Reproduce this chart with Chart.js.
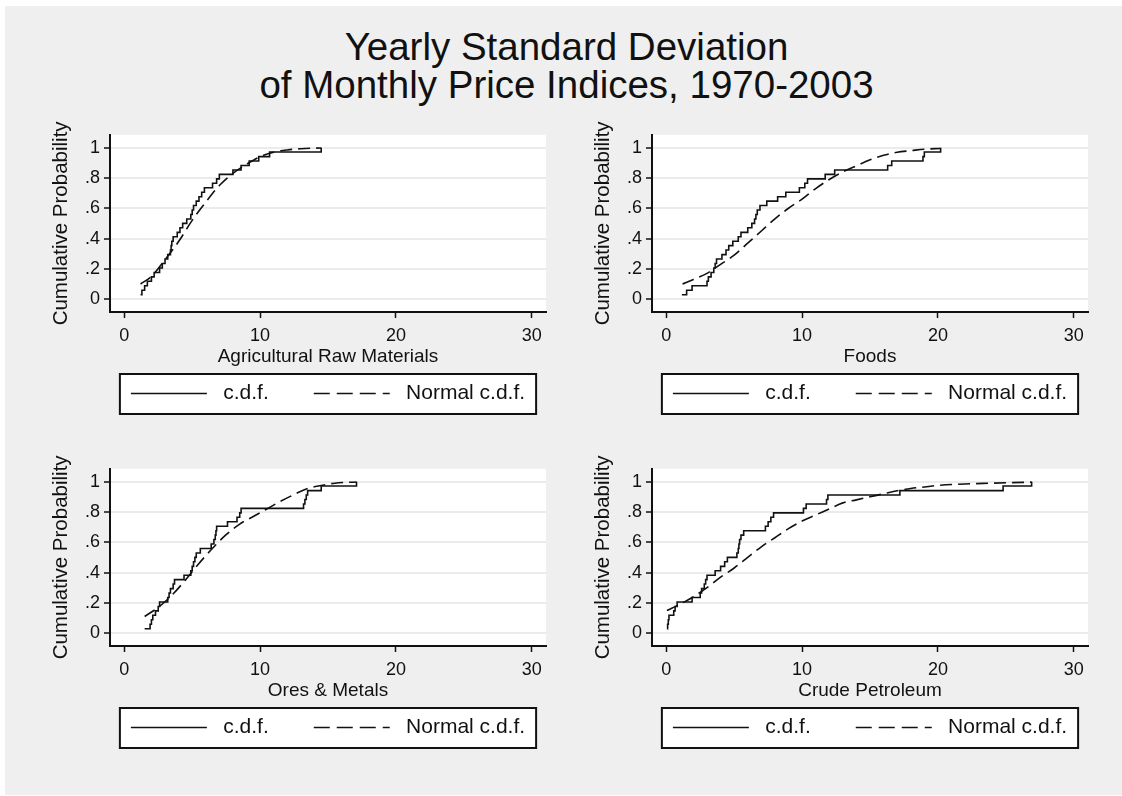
<!DOCTYPE html>
<html>
<head>
<meta charset="utf-8">
<script src="https://cdn.jsdelivr.net/npm/chart.js"></script>
<style>
  * { margin: 0; padding: 0; box-sizing: border-box; }
  body {
    width: 1122px;
    height: 796px;
    background: #fff;
    position: relative;
    overflow: hidden;
    font-family: "Liberation Sans", Arial, sans-serif;
  }
  .backdrop {
    position: absolute;
    left: 5px; top: 6px; right: 0; bottom: 1px;
    background: #efefef;
  }
  .title {
    position: absolute;
    left: 0; top: 28px;
    width: 1133px;
    text-align: center;
    font-size: 38.5px;
    line-height: 38px;
    color: #111;
  }
  canvas { position: absolute; }
</style>
</head>
<body>
  <div class="backdrop"></div>
  <div class="title">Yearly Standard Deviation<br>of Monthly Price Indices, 1970-2003</div>
  <canvas id="agri" width="520" height="300" style="left:40px;top:120px;width:520px;height:300px"></canvas>
  <canvas id="foods" width="520" height="300" style="left:582px;top:120px;width:520px;height:300px"></canvas>
  <canvas id="ores" width="520" height="300" style="left:40px;top:454px;width:520px;height:300px"></canvas>
  <canvas id="crude" width="520" height="300" style="left:582px;top:454px;width:520px;height:300px"></canvas>

<script>
  // cumulative probability of the k-th of 34 yearly values
  const cdfLevels = [0.029, 0.059, 0.088, 0.118, 0.147, 0.176, 0.206, 0.235, 0.265, 0.294,
    0.324, 0.353, 0.382, 0.412, 0.441, 0.471, 0.5, 0.529, 0.559, 0.588, 0.618, 0.647,
    0.676, 0.706, 0.735, 0.765, 0.794, 0.824, 0.853, 0.882, 0.912, 0.941, 0.971, 1];

  // sorted yearly standard deviations
  const agriSd = [1.2, 1.3, 1.5, 1.7, 2.0, 2.2, 2.6, 2.8, 3.0, 3.2, 3.4, 3.45, 3.5, 3.6, 3.9, 4.1, 4.3,
    4.6, 4.9, 5.0, 5.1, 5.3, 5.5, 5.7, 5.9, 6.5, 6.8, 7.0, 8.0, 8.6, 9.2, 9.9, 10.7, 14.5];
  const foodsSd = [1.15, 1.5, 1.9, 3.0, 3.1, 3.3, 3.5, 3.6, 3.7, 4.1, 4.4, 4.6, 4.9, 5.3, 5.5, 6.0, 6.3,
    6.5, 6.6, 6.7, 6.9, 7.4, 8.2, 8.8, 9.8, 10.2, 10.4, 11.7, 12.4, 16.3, 16.6, 18.9, 19.0, 20.2];
  const oresSd = [1.5, 1.9, 2.0, 2.1, 2.3, 2.5, 2.6, 3.2, 3.3, 3.4, 3.6, 3.7, 4.4, 4.9, 5.0, 5.1, 5.2,
    5.3, 5.6, 6.4, 6.6, 6.7, 6.75, 6.8, 7.6, 8.3, 8.5, 8.6, 13.2, 13.3, 13.4, 13.5, 14.5, 17.1];
  const crudeSd = [0.05, 0.1, 0.15, 0.2, 0.55, 0.65, 0.8, 1.9, 2.5, 2.6, 2.8, 2.9, 3.0, 3.6, 4.0, 4.3, 4.5,
    5.2, 5.3, 5.35, 5.4, 5.5, 5.7, 7.3, 7.5, 7.7, 7.9, 10.1, 10.3, 11.8, 11.9, 17.2, 24.8, 26.9];

  // normal c.d.f. curves
  const agriNormX = [1.2, 2, 3, 4, 5, 6, 7, 8, 9, 10, 11, 12, 13, 14.5];
  const agriNormY = [0.10, 0.15, 0.26, 0.38, 0.52, 0.64, 0.75, 0.83, 0.89, 0.94, 0.97, 0.985, 0.993, 0.998];
  const foodsNormX = [1.2, 2, 3, 4, 5, 6, 7, 8, 9, 10, 11, 12, 13, 14, 15, 16, 17, 18, 19, 20.2];
  const foodsNormY = [0.10, 0.13, 0.17, 0.23, 0.29, 0.37, 0.45, 0.53, 0.60, 0.66, 0.73, 0.79, 0.84, 0.88,
    0.92, 0.95, 0.97, 0.98, 0.99, 0.995];
  const oresNormX = [1.5, 2.5, 3.5, 4.5, 5.5, 6.5, 7.5, 8.5, 9.5, 10.5, 11.5, 12.5, 13.5, 14.5, 15.5, 17.1];
  const oresNormY = [0.11, 0.17, 0.25, 0.35, 0.46, 0.56, 0.65, 0.72, 0.77, 0.82, 0.87, 0.915, 0.955, 0.975,
    0.99, 0.998];
  const crudeNormX = [0.05, 1, 2, 3, 4, 5, 6, 7, 8, 9, 10, 11, 12, 13, 14, 15, 16, 17, 18, 19, 20, 22, 24, 26.9];
  const crudeNormY = [0.15, 0.19, 0.24, 0.30, 0.37, 0.43, 0.50, 0.57, 0.63, 0.69, 0.74, 0.78, 0.82, 0.86,
    0.88, 0.90, 0.92, 0.94, 0.955, 0.965, 0.975, 0.985, 0.99, 0.997];

  const xTickValues = [0, 10, 20, 30];
  const xTickLabels = ['0', '10', '20', '30'];
  const yTickValues = [0, 0.2, 0.4, 0.6, 0.8, 1];
  const yTickLabels = ['0', '.2', '.4', '.6', '.8', '1'];
  const seriesNames = ['c.d.f.', 'Normal c.d.f.'];

  Chart.defaults.font.family = '"Liberation Sans", Arial, sans-serif';
  Chart.defaults.color = '#111';

  // white plot region and the framed legend box
  const panelBackground = {
    id: 'panelBackground',
    beforeDraw(chart) {
      const { ctx, chartArea: a, legend } = chart;
      ctx.save();
      ctx.fillStyle = '#fff';
      ctx.fillRect(a.left, a.top, a.right - a.left, a.bottom - a.top);
      const boxes = legend && legend.legendHitBoxes;
      if (boxes && boxes.length) {
        const last = boxes[boxes.length - 1];
        const l = boxes[0].left - 11;
        const r = last.left + last.width + 11;
        const t = legend.top + 1;
        const b = legend.bottom;
        ctx.fillRect(l, t, r - l, b - t);
        ctx.lineWidth = 2;
        ctx.strokeStyle = '#111';
        ctx.strokeRect(l, t, r - l, b - t);
      }
      ctx.restore();
    }
  };

  function makePanel(id, xTitle, sd, normX, normY) {
    const stepData = sd.map((x, i) => ({ x: x, y: cdfLevels[i] }));
    const normData = normX.map((x, i) => ({ x: x, y: normY[i] }));

    return new Chart(document.getElementById(id), {
      type: 'line',
      data: {
        datasets: [{
          label: seriesNames[0],
          data: stepData,
          borderColor: '#111',
          borderWidth: 1.6,
          stepped: 'before',
          pointRadius: 0
        }, {
          label: seriesNames[1],
          data: normData,
          borderColor: '#111',
          borderWidth: 1.6,
          borderDash: [12, 6],
          cubicInterpolationMode: 'monotone',
          pointRadius: 0
        }]
      },
      options: {
        responsive: false,
        animation: false,
        layout: { padding: { top: 12, left: 0, right: 14, bottom: 6 } },
        scales: {
          x: {
            type: 'linear',
            min: -1.05,
            max: 31.05,
            afterBuildTicks: (axis) => { axis.ticks = xTickValues.map(v => ({ value: v })); },
            afterFit: (axis) => { axis.height = 61; },
            ticks: {
              font: { size: 18 },
              padding: 7,
              maxRotation: 0,
              callback: (v) => xTickLabels[xTickValues.indexOf(v)]
            },
            grid: { drawOnChartArea: false, drawTicks: true, tickLength: 6, tickColor: '#111', tickWidth: 1.5 },
            border: { display: true, color: '#111', width: 2 },
            title: { display: true, text: xTitle, font: { size: 19 }, padding: { top: 0, bottom: 5 } }
          },
          y: {
            type: 'linear',
            min: -0.085,
            max: 1.085,
            afterBuildTicks: (axis) => { axis.ticks = yTickValues.map(v => ({ value: v })); },
            afterFit: (axis) => { axis.width = 70; },
            ticks: {
              font: { size: 18 },
              padding: 4,
              callback: (v) => yTickLabels[yTickValues.indexOf(v)]
            },
            grid: { color: '#ebebeb', lineWidth: 2, drawTicks: true, tickLength: 6, tickColor: '#111', tickWidth: 1.5 },
            border: { display: true, color: '#111', width: 2 },
            title: { display: true, text: 'Cumulative Probability', font: { size: 20.5 }, padding: { top: 9, bottom: 0 } }
          }
        },
        plugins: {
          title: { display: false },
          tooltip: { enabled: false },
          legend: {
            display: true,
            position: 'bottom',
            fullSize: false,
            labels: {
              font: { size: 21 },
              padding: 10,
              usePointStyle: true,
              pointStyleWidth: 76,
              generateLabels: (chart) => chart.data.datasets.map((ds, i) => ({
                text: i === 0 ? ' ' + ds.label + '      ' : ' ' + ds.label,
                strokeStyle: '#111',
                fillStyle: '#111',
                fontColor: '#111',
                lineWidth: 1.6,
                lineDash: i === 0 ? [] : [16, 7],
                pointStyle: 'line',
                rotation: 180,
                hidden: false,
                datasetIndex: i
              }))
            }
          }
        }
      },
      plugins: [panelBackground]
    });
  }

  makePanel('agri', 'Agricultural Raw Materials', agriSd, agriNormX, agriNormY);
  makePanel('foods', 'Foods', foodsSd, foodsNormX, foodsNormY);
  makePanel('ores', 'Ores & Metals', oresSd, oresNormX, oresNormY);
  makePanel('crude', 'Crude Petroleum', crudeSd, crudeNormX, crudeNormY);
</script>
</body>
</html>
